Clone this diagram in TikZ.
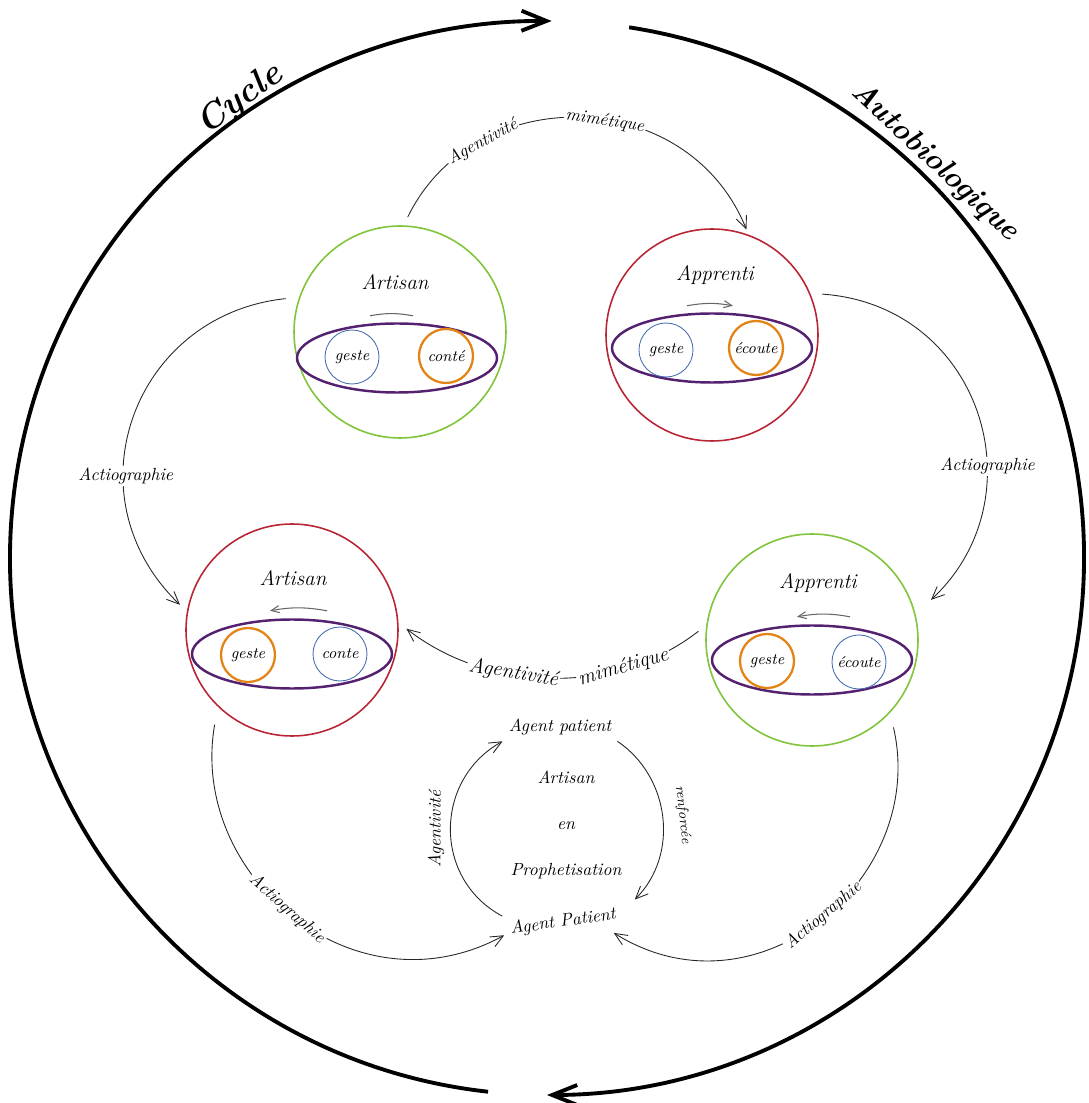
\documentclass[tikz,border=0pt]{standalone}
\usepackage{fontspec}
\usetikzlibrary{arrows.meta, positioning, shapes.geometric, calc}

\definecolor{artgreen}{RGB}{128,196,60}
\definecolor{artred}{RGB}{184,38,54}
\definecolor{ovalpurple}{RGB}{84,32,112}
\definecolor{inkblue}{RGB}{72,112,176}
\definecolor{inkorange}{RGB}{226,132,22}

\begin{document}
\begin{tikzpicture}[
    font=\itshape,
    station/.style={circle, draw=#1, line width=0.9pt, minimum size=4.24cm, inner sep=0pt},
    oval/.style={ellipse, draw=ovalpurple, line width=1.4pt, minimum width=4cm, minimum height=1.38cm, inner sep=0pt},
    spot/.style={circle, draw=#1, minimum size=1.08cm, inner sep=0pt, font=\itshape\small},
    spotblue/.style={spot=inkblue, line width=0.5pt},
    spotorange/.style={spot=inkorange, line width=1.3pt},
    title/.style={font=\itshape\large},
    arr/.style={-{Straight Barb[length=2.5mm, width=2.2mm]}, draw=black!85, line width=0.5pt},
    tick/.style={-{Straight Barb[length=1.6mm, width=1.4mm]}, draw=black!60, line width=0.6pt},
    ring/.style={-{Straight Barb[length=5mm, width=4mm]}, line width=2.2pt},
    lbl/.style={fill=white, inner sep=1pt, font=\itshape\normalsize}
  ]
    \useasboundingbox (-10.94,-10.90) rectangle (10.82,11.16);

    \draw[ring] (263.7:10.74) arc[start angle=263.7, end angle=89.5, radius=10.74cm];
    \draw[ring] (81.2:10.74) arc[start angle=81.2, end angle=-90, radius=10.74cm];
    \node[font=\bfseries\itshape\fontsize{20}{24}\selectfont, rotate=36] (cycle) at (-6.14,9.16) {Cycle};
    \node[font=\bfseries\itshape\fontsize{17}{21}\selectfont, rotate=-43] (autobio) at (7.76,7.92) {Autobiologique};

    \node[station=artgreen] (artA) at (-2.94,4.52) {};
    \node[title] (artAname) at (-3.04,5.52) {Artisan};
    \node[oval] (ovA) at (-3.00,4.00) {};
    \node[spotblue] (gesA) at (-3.90,4.02) {geste};
    \node[spotorange] (conA) at (-2.02,4.04) {conté};
    \draw[tick, -] ($(ovA.north)+(-0.54,0.13)$) to[bend left=10] ($(ovA.north)+(0.32,0.13)$);

    \node[station=artred] (appA) at (3.30,4.46) {};
    \node[title] (appAname) at (3.36,5.66) {Apprenti};
    \node[oval] (ovB) at (3.30,4.20) {};
    \node[spotblue] (gesB) at (2.38,4.16) {geste};
    \node[spotorange] (ecoB) at (4.18,4.20) {écoute};
    \draw[tick] ($(ovB.north)+(-0.50,0.13)$) to[bend left=10] ($(ovB.north)+(0.42,0.13)$);

    \node[station=artred] (artB) at (-5.10,-1.44) {};
    \node[title] (artBname) at (-5.08,-0.40) {Artisan};
    \node[oval] (ovC) at (-5.10,-1.92) {};
    \node[spotorange] (gesC) at (-5.98,-1.94) {geste};
    \node[spotblue] (conC) at (-4.14,-1.92) {conte};
    \draw[tick] ($(ovC.north)+(0.70,0.15)$) to[bend right=10] ($(ovC.north)+(-0.44,0.15)$);

    \node[station=artgreen] (appB) at (5.30,-1.64) {};
    \node[title] (appBname) at (5.42,-0.50) {Apprenti};
    \node[oval] (ovD) at (5.30,-2.04) {};
    \node[spotorange] (gesD) at (4.40,-2.06) {geste};
    \node[spotblue] (ecoD) at (6.24,-2.08) {écoute};
    \draw[tick] ($(ovD.north)+(0.76,0.15)$) to[bend right=10] ($(ovD.north)+(-0.30,0.15)$);

    \node (topAg) at (0.26,-3.38) {Agent patient};
    \node[rotate=8] (botAg) at (0.32,-7.28) {Agent Patient};
    \node[align=center] (prophet) at (0.38,-5.34) {Artisan\\[5mm] en\\[5mm] Prophetisation};

    \draw[arr, shorten <=0.18cm, shorten >=0.11cm] (artA.88) to[out=64, in=112, looseness=1.2]
      node[lbl, sloped, pos=0.26] (agTop) {Agentivité}
      node[lbl, sloped, pos=0.56] (miTop) {mimétique} (appA.70);
    \draw[arr, shorten <=0.24cm, shorten >=0.42cm] (appA.23.5) to[out=-4, in=43, looseness=1.3]
      node[lbl, pos=0.63, xshift=1mm] (acR) {Actiographie} (appB.14.6);
    \draw[arr, shorten <=0.27cm, shorten >=0.19cm] (artA.161) to[out=186, in=136, looseness=1.28]
      node[lbl, pos=0.65] (acL) {Actiographie} (artB.170);
    \draw[arr, shorten <=0.2cm, shorten >=0.2cm] (appB.172.6) to[out=218, in=-38, looseness=0.95]
      node[lbl, sloped, pos=0.28, font=\itshape\large] (miBot) {mimétique}
      node[lbl, sloped, pos=0.62, font=\itshape\large] (agBot) {Agentivité} (artB.4);
    \draw[arr, shorten <=0.36cm] (artB.226.6) to[out=260, in=208.6, looseness=1.19]
      node[lbl, sloped, pos=0.48] (acBL) {Actiographie} ([yshift=-1mm]botAg.west);
    \draw[arr, shorten <=0.3cm] (appB.-43) to[out=-77, in=-32, looseness=1.23]
      node[lbl, sloped, pos=0.49] (acBR) {Actiographie} ([shift={(-2mm,-1mm)}]botAg.south east);

    \draw[arr] (botAg.north west) to[out=152, in=209, looseness=1.15]
      node[sloped, above, pos=0.5] (agSm) {Agentivité} (topAg.south west);
    \draw[arr] (topAg.south east) to[out=-34, in=45, looseness=1.02]
      node[sloped, above=1.5mm, pos=0.5, font=\itshape\footnotesize] (renf) {renforcée} ([xshift=3mm]botAg.north east);
  \end{tikzpicture}
\end{document}
